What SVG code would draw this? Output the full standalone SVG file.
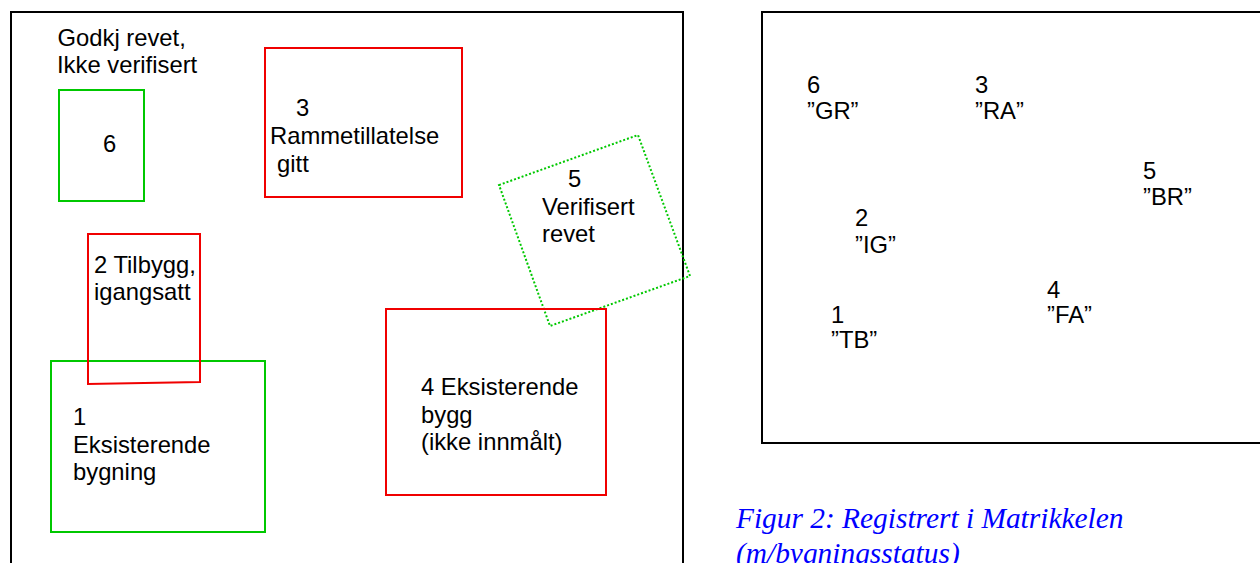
<svg xmlns="http://www.w3.org/2000/svg" width="1260" height="563" viewBox="0 0 1260 563">
<style>
text{font-family:"Liberation Sans",Arial,sans-serif;font-size:23.8px;fill:#000}
.box{fill:none;stroke-width:2}
.g{stroke:#00c800}.r{stroke:#f00000}
.k{fill:none;stroke:#000;stroke-width:2}
text.cap{font-family:"Liberation Serif",serif;font-style:italic;font-size:29.4px;fill:#0000ff}
</style>
<rect width="1260" height="563" fill="#fff"/>
<g id="frame-left"><path class="k" d="M11 563V12H683V563"/></g>
<g id="frame-right"><path class="k" d="M1260 12H762V443H1260"/></g>
<g id="connectors"/>
<g id="n6"><rect class="box g" x="59" y="90" width="85" height="111"/><text x="57.5" y="45.5">Godkj revet,</text><text x="57" y="73">Ikke verifisert</text><text x="103" y="152">6</text></g>
<g id="n3"><rect class="box r" x="265" y="48" width="197" height="149"/><text x="296" y="116">3</text><text x="270" y="144">Rammetillatelse</text><text x="277" y="172">gitt</text></g>
<g id="n5"><polygon points="499,185 638,135 690,276 550,326" fill="none" stroke="#00c800" stroke-width="2" stroke-dasharray="2 2"/><text x="568" y="187">5</text><text x="542" y="215">Verifisert</text><text x="542" y="242">revet</text></g>
<g id="n1"><rect class="box g" x="51" y="361" width="214" height="171"/><text x="73" y="425">1</text><text x="73" y="453">Eksisterende</text><text x="73" y="480">bygning</text></g>
<g id="n2"><polygon class="box r" points="88,234 200,234 200,382 88,384"/><text x="94" y="273">2 Tilbygg,</text><text x="94" y="300">igangsatt</text></g>
<g id="n4"><rect class="box r" x="386" y="309" width="220" height="186"/><text x="421" y="395">4 Eksisterende</text><text x="421" y="423">bygg</text><text x="421" y="450">(ikke innmålt)</text></g>
<g id="r6"><text x="807" y="93">6</text><text x="807" y="119">”GR”</text></g>
<g id="r3"><text x="975" y="93">3</text><text x="975" y="119">”RA”</text></g>
<g id="r5"><text x="1143" y="179">5</text><text x="1143" y="205">”BR”</text></g>
<g id="r2"><text x="855" y="226">2</text><text x="855" y="253">”IG”</text></g>
<g id="r4"><text x="1047" y="298">4</text><text x="1047" y="323">”FA”</text></g>
<g id="r1"><text x="831" y="323">1</text><text x="831" y="348">”TB”</text></g>
<text class="cap" x="736" y="528">Figur 2: Registrert i Matrikkelen</text>
<text class="cap" x="736" y="563">(m/bygningsstatus)</text>
</svg>
